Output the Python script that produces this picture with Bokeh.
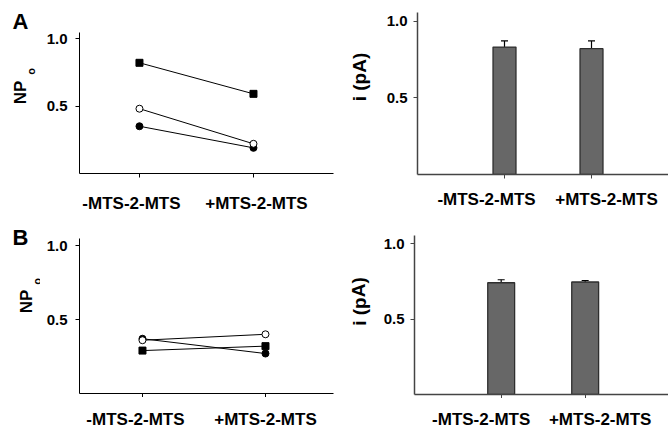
from bokeh.plotting import figure
from bokeh.layouts import column, row
from bokeh.models import (Range1d, FixedTicker, Whisker, TeeHead, ColumnDataSource,
                          PrintfTickFormatter)
from bokeh.core.properties import value
from bokeh.embed import file_html
from bokeh.resources import INLINE

# ---------------- data ----------------
conditions = ["-MTS-2-MTS", "+MTS-2-MTS"]
y_ticks = [0.5, 1.0]

# Panel A, NPo (three patches)
a_np_square = [0.82, 0.59]
a_np_open = [0.48, 0.22]
a_np_filled = [0.35, 0.19]
# Panel A, unitary current i (pA): mean and upper error
a_i_mean = [0.83, 0.82]
a_i_err = [0.04, 0.05]

# Panel B, NPo
b_np_square = [0.29, 0.32]
b_np_open = [0.36, 0.40]
b_np_filled = [0.37, 0.27]
# Panel B, i (pA)
b_i_mean = [0.74, 0.745]
b_i_err = [0.02, 0.01]

FONT = "Liberation Sans"
x_pos = list(range(len(conditions)))


def new_fig(width, height, x_range, y_range, left, right, top, bottom):
    p = figure(width=width, height=height, output_backend="svg", toolbar_location=None,
               x_range=x_range, y_range=y_range,
               min_border_left=left, min_border_right=right,
               min_border_top=top, min_border_bottom=bottom)
    p.title.visible = False
    p.outline_line_color = None
    p.grid.visible = False
    return p


def bare(width, height, x_range, y_range, left, right, bottom):
    p = new_fig(width, height, x_range, y_range, left, right, 0, bottom)
    p.axis.visible = False
    return p


def main_fig(width, height, left, right, bottom, x_start, x_end, px_per_unit, axis_top,
             axis_color, axis_width, ystandoff):
    frame_h = height - bottom
    p = new_fig(width, height, Range1d(x_start, x_end), Range1d(0, frame_h / px_per_unit),
                left, right, 0, bottom)
    p.xaxis.ticker = FixedTicker(ticks=x_pos)
    p.xaxis.major_label_text_font_size = "1px"
    p.xaxis.major_label_text_color = None
    p.xaxis.major_label_standoff = 0
    p.yaxis.ticker = FixedTicker(ticks=y_ticks)
    p.yaxis.formatter = PrintfTickFormatter(format="%.1f")
    p.yaxis.bounds = (0, axis_top)
    for ax in (p.xaxis, p.yaxis):
        ax.axis_line_color = axis_color
        ax.axis_line_width = axis_width
        ax.major_tick_line_color = axis_color
        ax.major_tick_line_width = 1
        ax.major_tick_out = 4
        ax.major_tick_in = 0
        ax.minor_tick_line_color = None
    p.yaxis.major_label_text_font = FONT
    p.yaxis.major_label_text_font_style = "bold"
    p.yaxis.major_label_text_color = "black"
    p.yaxis.major_label_text_font_size = "15px"
    p.yaxis.major_label_standoff = ystandoff
    return p


def strip_text(p, text, fx, fy, size, angle=0.0):
    # fx, fy measured from the strip's top-left corner, in pixels
    h = p.y_range.end
    p.text(x=[fx], y=[h - fy], text=[text], angle=angle,
           text_align="center", text_baseline="middle",
           text_font=value(FONT), text_font_style="bold",
           text_font_size=value(f"{size}px"), text_color="black")


def quadrant(strip_w, main_w, main_h, bottom, bs_h, left, right, x_start, x_end,
             px_per_unit, axis_top, axis_color, axis_width, ystandoff, label_shift,
             label_size, label_base):
    frame_h = main_h - bottom
    ls = bare(strip_w, main_h, Range1d(0, strip_w), Range1d(0, frame_h), 0, 0, bottom)
    mp = main_fig(main_w, main_h, left, right, bottom, x_start, x_end, px_per_unit,
                  axis_top, axis_color, axis_width, ystandoff)
    bs = bare(strip_w + main_w, bs_h, mp.x_range, Range1d(0, bs_h),
              strip_w + left, right, 0)
    bs.text(x=x_pos, y=[label_base] * len(x_pos), text=conditions, x_offset=label_shift,
            text_align="center", text_baseline="alphabetic",
            text_font=value(FONT), text_font_style="bold",
            text_font_size=value(f"{label_size}px"), text_color="black")
    return ls, mp, column(row(ls, mp), bs)


def np_panel(p, sq, op, fi):
    for ys in (sq, op, fi):
        p.line(x_pos, ys, line_color="black", line_width=1)
    p.scatter(x_pos, sq, marker="square", size=7, fill_color="black", line_color="black")
    p.scatter(x_pos, fi, marker="circle", size=7, fill_color="black", line_color="black")
    p.scatter(x_pos, op, marker="circle", size=7, fill_color="white", line_color="black",
              line_width=1)


def bar_panel(p, mean, err, bw):
    upper = [m + e for m, e in zip(mean, err)]
    src = ColumnDataSource(dict(x=x_pos, top=mean, upper=upper))
    p.vbar(x="x", top="top", bottom=0, width=bw, source=src,
           fill_color="#676767", line_color="#2e2e2e", line_width=1.3)
    p.add_layout(Whisker(source=src, base="x", lower="top", upper="upper",
                         line_color="black", line_width=1.2,
                         upper_head=TeeHead(size=7, line_color="black", line_width=1.2),
                         lower_head=None))


R90 = 1.5708

# ---------- top-left: A, NPo ----------
ls, tl, q_tl = quadrant(40, 294, 179, 6, 34, 39, 1, -0.526, 1.702, 135, 1.044,
                        "black", 1, 8, [-8, 3], 17, 10)
np_panel(tl, a_np_square, a_np_open, a_np_filled)
strip_text(ls, "A", 20, 20.5, 22)
strip_text(ls, "NP", 20, 92, 17, angle=R90)
strip_text(ls, "o", 30.5, 71, 11, angle=R90)

# ---------- top-right: A, i (pA) ----------
ls, tr, q_tr = quadrant(40, 294, 180, 6, 33, 43, 0, -1.0, 1.885, 153.5, 1.055,
                        "#444444", 1.5, 6, [-18, 15], 17, 14)
bar_panel(tr, a_i_mean, a_i_err, 0.264)
strip_text(ls, "i (pA)", 25, 76.5, 19, angle=R90)

# ---------- bottom-left: B, NPo ----------
ls, bl, q_bl = quadrant(40, 294, 184, 4, 29, 39, 1, -0.512, 1.553, 148, 1.047,
                        "black", 1, 8, [-7, 0], 17, 7)
np_panel(bl, b_np_square, b_np_open, b_np_filled)
strip_text(ls, "B", 20, 23.5, 22)
strip_text(ls, "NP", 25.5, 88, 17, angle=R90)
strip_text(ls, "o", 36, 68, 11, angle=R90)

# ---------- bottom-right: B, i (pA) ----------
ls, br, q_br = quadrant(40, 294, 185, 4, 28, 40, 0, -1.032, 1.992, 151, 1.053,
                        "#444444", 1.5, 6, [-20, 15], 17, 7)
bar_panel(br, b_i_mean, b_i_err, 0.32)
strip_text(ls, "i (pA)", 24.5, 88, 19, angle=R90)

layout = column(row(q_tl, q_tr), row(q_bl, q_br))

open("out.html", "w").write(file_html(layout, INLINE))
